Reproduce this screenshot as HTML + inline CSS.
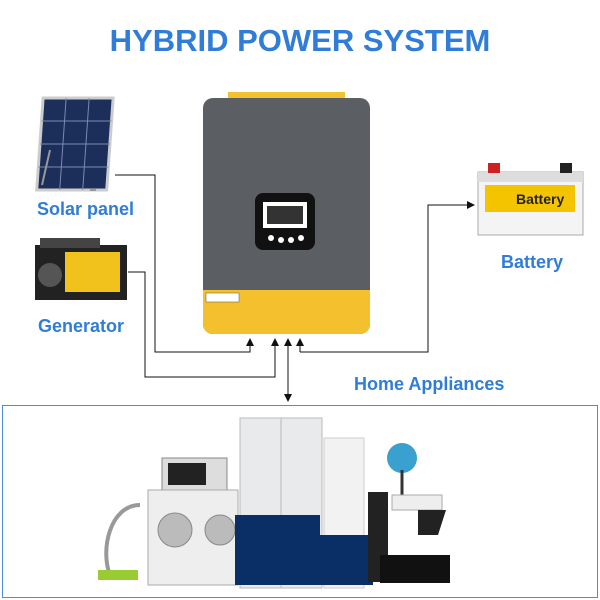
<!DOCTYPE html>
<html><head><meta charset="utf-8"><style>
body{margin:0;width:600px;height:600px;background:#fff;overflow:hidden;font-family:"Liberation Sans",sans-serif}
.t{position:absolute;color:#2f7dd8;font-weight:bold;white-space:nowrap}
</style></head><body>
<div class="t" style="left:0;width:600px;text-align:center;top:23px;font-size:31px;">HYBRID POWER SYSTEM</div>
<div class="t" style="left:37px;top:199px;font-size:18px">Solar panel</div>
<div class="t" style="left:38px;top:316px;font-size:18px">Generator</div>
<div class="t" style="left:501px;top:252px;font-size:18px">Battery</div>
<div class="t" style="left:354px;top:374px;font-size:18px">Home Appliances</div>
<svg width="600" height="600" style="position:absolute;left:0;top:0">
<defs><marker id="a" markerWidth="8" markerHeight="8" refX="7" refY="4" orient="auto"><path d="M0,0L8,4L0,8z" fill="#111"/></marker></defs>
<g transform="skewX(-4)"><rect x="50" y="98" width="70" height="92" fill="#1c2e5a" stroke="#ccc" stroke-width="3"/>
<path d="M73 98v92M96 98v92M50 121h70M50 144h70M50 167h70" stroke="#7a8bb0" stroke-width="1"/></g>
<path d="M50 150l-8 35M90 190l6 0" stroke="#999" stroke-width="2"/>
<rect x="35" y="245" width="92" height="55" fill="#222"/>
<rect x="65" y="252" width="55" height="40" fill="#f1c21b"/>
<rect x="40" y="238" width="60" height="10" fill="#444"/>
<circle cx="50" cy="275" r="12" fill="#555"/>
<rect x="228" y="92" width="117" height="9" fill="#f3c230"/>
<rect x="203" y="98" width="167" height="236" rx="10" fill="#5b5e63"/>
<path d="M203 290h167v34a10 10 0 0 1-10 10h-147a10 10 0 0 1-10-10z" fill="#f4c02d"/>
<rect x="255" y="193" width="60" height="57" rx="8" fill="#111"/>
<rect x="263" y="202" width="44" height="26" fill="#fff"/>
<rect x="267" y="206" width="36" height="18" fill="#333"/>
<circle cx="271" cy="238" r="3" fill="#fff"/><circle cx="281" cy="240" r="3" fill="#fff"/><circle cx="291" cy="240" r="3" fill="#fff"/><circle cx="301" cy="238" r="3" fill="#fff"/>
<rect x="206" y="293" width="33" height="9" fill="#fff" stroke="#555" stroke-width=".5"/>
<rect x="478" y="172" width="105" height="63" fill="#f4f4f4" stroke="#aaa"/>
<rect x="478" y="172" width="105" height="10" fill="#ddd"/>
<rect x="488" y="163" width="12" height="10" fill="#c22"/><rect x="560" y="163" width="12" height="10" fill="#222"/>
<rect x="485" y="185" width="90" height="27" fill="#f5c400"/>
<text x="516" y="204" font-family="Liberation Sans" font-weight="bold" font-size="14" fill="#222">Battery</text>
<g stroke="#111" stroke-width="1" fill="none">
<path d="M115 175H155V352H250V339" marker-end="url(#a)"/>
<path d="M128 272H145V377H275V339" marker-end="url(#a)"/>
<path d="M300 352V339" marker-end="url(#a)"/>
<path d="M300 352H428V205H474" marker-end="url(#a)"/>
<path d="M288 345V401" marker-end="url(#a)"/>
<path d="M288 395V339" marker-end="url(#a)"/>
</g>
<rect x="2.5" y="405.5" width="595" height="192" fill="none" stroke="#4a8fd6"/>
<rect x="240" y="418" width="82" height="170" fill="#e8eaec" stroke="#bbb"/>
<line x1="281" y1="418" x2="281" y2="588" stroke="#bbb"/>
<rect x="324" y="438" width="40" height="150" fill="#f2f2f2" stroke="#ccc"/>
<rect x="162" y="458" width="65" height="33" fill="#ddd" stroke="#888"/><rect x="168" y="463" width="38" height="22" fill="#222"/>
<rect x="148" y="490" width="90" height="95" fill="#eee" stroke="#aaa"/>
<circle cx="175" cy="530" r="17" fill="#bbb" stroke="#888"/><circle cx="220" cy="530" r="15" fill="#bbb" stroke="#888"/>
<path d="M140 505C110 505 100 550 110 575" stroke="#999" stroke-width="4" fill="none"/>
<rect x="98" y="570" width="40" height="10" fill="#9c3"/>
<rect x="235" y="515" width="85" height="70" fill="#0a2f66"/>
<rect x="318" y="535" width="55" height="50" fill="#0a2f66"/>
<circle cx="402" cy="458" r="15" fill="#3aa0d0"/><line x1="402" y1="470" x2="402" y2="505" stroke="#333" stroke-width="3"/>
<rect x="368" y="492" width="20" height="90" fill="#222"/>
<rect x="392" y="495" width="50" height="15" fill="#eee" stroke="#aaa"/>
<path d="M418 510h28l-8 25h-20z" fill="#222"/>
<rect x="380" y="555" width="70" height="28" fill="#111"/>
</svg>
</body></html>
